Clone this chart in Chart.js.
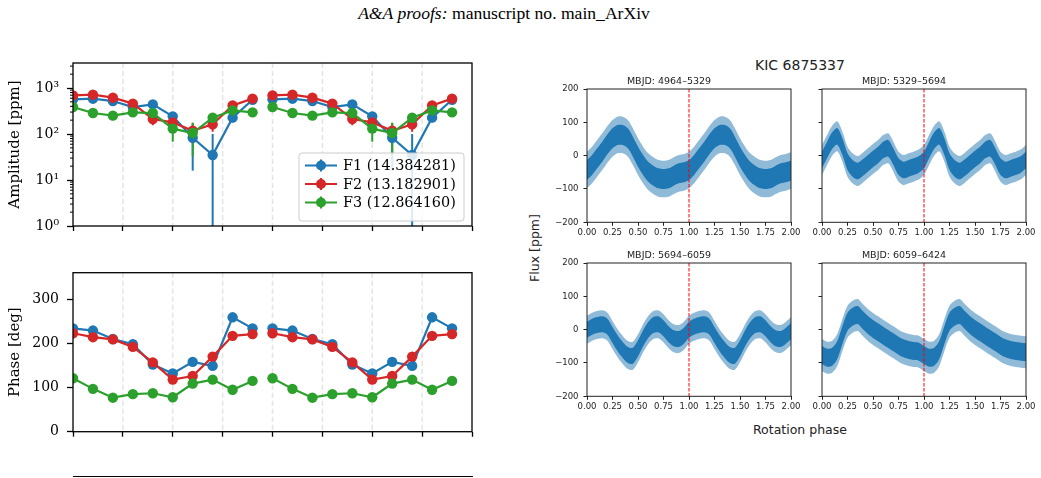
<!DOCTYPE html>
<html>
<head>
<meta charset="utf-8">
<script src="https://cdn.jsdelivr.net/npm/chart.js@4.4.0/dist/chart.umd.min.js"></script>
<style>
  body { margin: 0; background: #fff; width: 1041px; height: 478px; position: relative; overflow: hidden; }
  .box { position: absolute; }
  .txt { position: absolute; white-space: nowrap; color: #000; }
  #header { top: 3px; left: 0; width: 1008px; text-align: center; font-family: "Liberation Serif", serif; font-size: 17.6px; }
  #kic { top: 57px; left: 700px; width: 200px; text-align: center; font-family: "DejaVu Sans", sans-serif; font-size: 14px; color: #222; }
  #rot { top: 422px; left: 700px; width: 200px; text-align: center; font-family: "DejaVu Sans", sans-serif; font-size: 12.5px; color: #222; }
  #flux { top: 248px; left: 534px; font-family: "DejaVu Sans", sans-serif; font-size: 12.5px; color: #222; transform: translate(-50%, -50%) rotate(-90deg); }
  #third { position: absolute; left: 73px; top: 476px; width: 400px; border-top: 1.3px solid #000; }
</style>
</head>
<body>
<div id="header" class="txt"><i>A&amp;A proofs:</i> manuscript no. main_ArXiv</div>
<div id="kic" class="txt">KIC 6875337</div>
<div id="rot" class="txt">Rotation phase</div>
<div id="flux" class="txt">Flux [ppm]</div>
<div id="third"></div>

<div class="box" style="left:0;top:55px;width:480px;height:180px"><canvas id="amp"></canvas></div>
<div class="box" style="left:0;top:265px;width:480px;height:180px"><canvas id="phase"></canvas></div>
<div class="box" style="left:546.7px;top:74px;width:256px;height:162.3px"><canvas id="flux1"></canvas></div>
<div class="box" style="left:781.7px;top:74px;width:256px;height:162.3px"><canvas id="flux2"></canvas></div>
<div class="box" style="left:546.7px;top:247.7px;width:256px;height:162.3px"><canvas id="flux3"></canvas></div>
<div class="box" style="left:781.7px;top:247.7px;width:256px;height:162.3px"><canvas id="flux4"></canvas></div>

<script>
// ---- left panels: amplitude / phase of the three frequencies per bin ----
var binCentres = [0, 0.4, 0.8, 1.2, 1.6, 2.0, 2.4, 2.8, 3.2, 3.6];
var cycleOffset = 4;
var seriesLabels = ['F1 (14.384281)', 'F2 (13.182901)', 'F3 (12.864160)'];
var seriesColours = ['#1f77b4', '#d62728', '#2ca02c'];

var ampF1 = [567, 586, 521, 386, 441, 242, 83, 35, 227, 557];
var ampF2 = [692, 716, 616, 458, 212, 179, 118, 162, 419, 588];
var ampF3 = [386, 286, 251, 296, 286, 131, 105, 226, 327, 296];
var errF1 = [30, 30, 30, 30, 35, 40, 67, 65, 47, 30];
var errF2 = [30, 30, 30, 30, 57, 35, 55, 50, 35, 30];
var errF3 = [20, 20, 20, 20, 25, 63, 72, 30, 25, 20];

var phF1 = [234, 229, 210, 198, 152, 132, 158, 149, 259, 234];
var phF2 = [223, 214, 209, 192, 157, 118, 126, 170, 217, 221];
var phF3 = [121, 97, 77, 85, 87, 78, 109, 118, 95, 115];

var ampDecades = [1, 10, 100, 1000];
var decadeLabels = ['10\u2070', '10\u00b9', '10\u00b2', '10\u00b3'];
var phaseTicks = [0, 100, 200, 300];

// ---- right panels: folded light curves ----
var foldPhase = [0, 0.05, 0.1, 0.15, 0.2, 0.25, 0.3, 0.35, 0.4, 0.45, 0.5,
  0.55, 0.6, 0.65, 0.7, 0.75, 0.8, 0.85, 0.9, 0.95, 1.0];
var flux1 = [-43, -28, -8, 12, 34, 52, 62, 62, 52, 27, -3, -28, -48, -60, -68, -70, -68, -60, -53, -50, -45];
var flux2 = [-13, 17, 45, 58, 27, -18, -38, -46, -36, -23, -10, 2, 17, 22, -3, -33, -43, -38, -33, -26, -13];
var flux3 = [0, 9, 14, 16, 9, -16, -41, -61, -76, -78, -56, -26, -1, 14, 16, 4, -14, -26, -28, -18, -4];
var flux4 = [-76, -84, -81, -61, -16, 24, 39, 44, 29, 14, 2, -8, -18, -28, -38, -48, -56, -61, -64, -66, -68];
var fluxCore = [30, 25, 24, 27];
var fluxOuter = [55, 45, 42, 48];
var fluxTitles = ['MBJD: 4964\u20135329', 'MBJD: 5329\u20135694', 'MBJD: 5694\u20136059', 'MBJD: 6059\u20136424'];
var markerPhase = 1.0;

Chart.defaults.font.family = 'DejaVu Sans';
Chart.defaults.color = '#000';

function cyclePoints(values) {
  var pts = [];
  binCentres.forEach(function (x, i) { pts.push({x: x, y: values[i]}); });
  pts.push({x: cycleOffset - 0.2, y: null});
  binCentres.forEach(function (x, i) { pts.push({x: x + cycleOffset, y: values[i]}); });
  return pts;
}

function frame(width, colour) {
  return {
    id: 'frame',
    afterDraw: function (chart) {
      var a = chart.chartArea, ctx = chart.ctx;
      ctx.save();
      ctx.strokeStyle = colour;
      ctx.lineWidth = width;
      ctx.strokeRect(a.left, a.top, a.right - a.left, a.bottom - a.top);
      ctx.restore();
    }
  };
}

var dashedGrid = {
  id: 'dashedGrid',
  beforeDatasetsDraw: function (chart) {
    var xs = chart.scales.x, a = chart.chartArea, ctx = chart.ctx;
    ctx.save();
    ctx.strokeStyle = '#e4e4e4';
    ctx.lineWidth = 1.5;
    ctx.setLineDash([5, 3]);
    for (var t = xs.min + 1; t < xs.max; t++) {
      var px = xs.getPixelForValue(t);
      ctx.beginPath(); ctx.moveTo(px, a.top); ctx.lineTo(px, a.bottom); ctx.stroke();
    }
    ctx.restore();
  }
};

var errorBars = {
  id: 'errorBars',
  beforeDatasetsDraw: function (chart) {
    var ys = chart.scales.y, a = chart.chartArea, ctx = chart.ctx;
    ctx.save();
    ctx.beginPath(); ctx.rect(a.left, a.top, a.right - a.left, a.bottom - a.top); ctx.clip();
    chart.data.datasets.forEach(function (ds, i) {
      if (!ds.errors) return;
      var meta = chart.getDatasetMeta(i);
      ctx.strokeStyle = ds.borderColor;
      ctx.lineWidth = 2;
      ds.data.forEach(function (p, j) {
        var e = ds.errors[j];
        if (p.y === null || e === null) return;
        var top = ys.getPixelForValue(p.y + e);
        var bot = p.y - e > 0 ? ys.getPixelForValue(p.y - e) : a.bottom + 5;
        var x = meta.data[j].x;
        ctx.beginPath(); ctx.moveTo(x, top); ctx.lineTo(x, bot); ctx.stroke();
      });
    });
    ctx.restore();
  }
};

var minorLogTicks = {
  id: 'minorLogTicks',
  afterDraw: function (chart) {
    var ys = chart.scales.y, a = chart.chartArea, ctx = chart.ctx;
    ctx.save();
    ctx.strokeStyle = '#000';
    ctx.lineWidth = 1;
    ampDecades.forEach(function (d) {
      for (var k = 2; k <= 9; k++) {
        var v = k * d;
        if (v > ys.max) return;
        var py = ys.getPixelForValue(v);
        ctx.beginPath(); ctx.moveTo(a.left - 3, py); ctx.lineTo(a.left, py); ctx.stroke();
      }
    });
    ctx.restore();
  }
};

var boxLegend = {
  id: 'boxLegend',
  afterDraw: function (chart) {
    var a = chart.chartArea, ctx = chart.ctx;
    var w = 165, h = 68, x0 = a.right - 8 - w, y0 = a.bottom - 5 - h;
    ctx.save();
    ctx.fillStyle = 'rgba(255,255,255,0.85)';
    ctx.strokeStyle = '#cccccc';
    ctx.lineWidth = 1;
    ctx.beginPath();
    ctx.roundRect(x0, y0, w, h, 3);
    ctx.fill(); ctx.stroke();
    ctx.font = '14.4px "DejaVu Serif"';
    ctx.textBaseline = 'middle';
    seriesLabels.forEach(function (lab, i) {
      var y = y0 + 12.5 + i * 18.5;
      ctx.strokeStyle = seriesColours[i];
      ctx.fillStyle = seriesColours[i];
      ctx.lineWidth = 2;
      ctx.beginPath(); ctx.moveTo(x0 + 6, y); ctx.lineTo(x0 + 38, y); ctx.stroke();
      ctx.beginPath(); ctx.moveTo(x0 + 22, y - 6); ctx.lineTo(x0 + 22, y + 6); ctx.stroke();
      ctx.beginPath(); ctx.arc(x0 + 22, y, 5, 0, Math.PI * 2); ctx.fill();
      ctx.fillStyle = '#000';
      ctx.fillText(lab, x0 + 44, y + 1);
    });
    ctx.restore();
  }
};

function seriesDatasets(values, errs) {
  return values.map(function (v, i) {
    return {
      label: seriesLabels[i],
      data: cyclePoints(v),
      errors: errs ? errs[i].concat([null], errs[i]) : null,
      borderColor: seriesColours[i],
      backgroundColor: seriesColours[i],
      borderWidth: 2.2,
      pointRadius: 5.2,
      pointHoverRadius: 5.2,
      pointBorderWidth: 0,
      order: 3 - i
    };
  });
}

function leftXAxis(height) {
  return {
    type: 'linear', min: 0, max: 8,
    ticks: {stepSize: 1, color: 'rgba(0,0,0,0)', font: {size: 1}},
    grid: {drawOnChartArea: false, tickLength: 5, tickColor: '#000', tickWidth: 1.3},
    border: {display: false},
    afterFit: function (s) { s.height = height; s.paddingLeft = 0; s.paddingRight = 0; }
  };
}

var serifTick = {family: 'DejaVu Serif', size: 14};
var serifTitle = {family: 'DejaVu Serif', size: 15};

new Chart(document.getElementById('amp'), {
  type: 'line',
  data: {datasets: seriesDatasets([ampF1, ampF2, ampF3], [errF1, errF2, errF3])},
  options: {
    responsive: true, maintainAspectRatio: false, animation: false,
    layout: {padding: {top: 8, right: 8, left: 0, bottom: 0}},
    plugins: {legend: {display: false}, tooltip: {enabled: false}},
    scales: {
      x: leftXAxis(9),
      y: {
        type: 'logarithmic', min: 1, max: 3500,
        afterBuildTicks: function (s) { s.ticks = ampDecades.map(function (v) { return {value: v, major: true}; }); },
        ticks: {
          font: serifTick, color: '#000', padding: 8,
          callback: function (v) { var k = ampDecades.indexOf(v); return k >= 0 ? decadeLabels[k] : ''; }
        },
        grid: {drawOnChartArea: false, tickLength: 6, tickColor: '#000', tickWidth: 1.3},
        border: {display: false},
        title: {display: true, text: 'Amplitude [ppm]', font: serifTitle, color: '#000', padding: {top: 6, bottom: 0}},
        afterFit: function (s) { s.width = 73; s.paddingTop = 0; s.paddingBottom = 0; }
      }
    }
  },
  plugins: [dashedGrid, errorBars, minorLogTicks, frame(1.3, '#000'), boxLegend]
});

new Chart(document.getElementById('phase'), {
  type: 'line',
  data: {datasets: seriesDatasets([phF1, phF2, phF3], null)},
  options: {
    responsive: true, maintainAspectRatio: false, animation: false,
    layout: {padding: {top: 7.7, right: 8, left: 0, bottom: 0}},
    plugins: {legend: {display: false}, tooltip: {enabled: false}},
    scales: {
      x: leftXAxis(13.3),
      y: {
        min: 0, max: 360,
        afterBuildTicks: function (s) { s.ticks = phaseTicks.map(function (v) { return {value: v}; }); },
        ticks: {font: serifTick, color: '#000', padding: 8},
        grid: {drawOnChartArea: false, tickLength: 6, tickColor: '#000', tickWidth: 1.3},
        border: {display: false},
        title: {display: true, text: 'Phase [deg]', font: serifTitle, color: '#000', padding: {top: 6, bottom: 0}},
        afterFit: function (s) { s.width = 73; s.paddingTop = 0; s.paddingBottom = 0; }
      }
    }
  },
  plugins: [dashedGrid, frame(1.3, '#000')]
});

// ---- folded light curves ----
var markerLine = {
  id: 'markerLine',
  afterDatasetsDraw: function (chart) {
    var xs = chart.scales.x, a = chart.chartArea, ctx = chart.ctx;
    var px = xs.getPixelForValue(markerPhase);
    ctx.save();
    ctx.strokeStyle = '#ff0000';
    ctx.lineWidth = 1;
    ctx.setLineDash([3.5, 1.5]);
    ctx.beginPath(); ctx.moveTo(px, a.top); ctx.lineTo(px, a.bottom); ctx.stroke();
    ctx.restore();
  }
};

function bandPoints(values, offset) {
  var pts = [];
  [0, 1].forEach(function (c) {
    foldPhase.forEach(function (p, i) {
      if (c === 0 && i === foldPhase.length - 1) return;
      pts.push({x: p + c, y: values[i] + offset});
    });
  });
  return pts;
}

function fluxChart(id, k, values, showLabels) {
  var band = function (off, fill, colour) {
    return {
      data: bandPoints(values, off), fill: fill, backgroundColor: colour,
      borderWidth: 0, pointRadius: 0, tension: 0.3
    };
  };
  new Chart(document.getElementById(id), {
    type: 'line',
    data: {
      datasets: [
        band(fluxCore[k], '+1', 'rgba(31,119,180,1)'),
        band(-fluxCore[k], false, 'rgba(31,119,180,1)'),
        band(fluxOuter[k], '+1', 'rgba(31,119,180,0.5)'),
        band(-fluxOuter[k], false, 'rgba(31,119,180,0.5)')
      ]
    },
    options: {
      responsive: true, maintainAspectRatio: false, animation: false,
      layout: {padding: {top: 0, right: 12, left: 0, bottom: 0}},
      plugins: {
        legend: {display: false}, tooltip: {enabled: false},
        title: {display: true, text: fluxTitles[k], font: {size: 9.5, weight: 'normal'}, color: '#222', padding: {top: 1.5, bottom: 2.1}}
      },
      scales: {
        x: {
          type: 'linear', min: 0, max: 2,
          ticks: {stepSize: 0.25, font: {size: 8.5}, color: '#222', padding: 2, maxRotation: 0, autoSkip: false,
            callback: function (v) { return v.toFixed(2); }},
          grid: {drawOnChartArea: false, tickLength: 3.5, tickColor: '#222'},
          border: {display: false},
          afterFit: function (s) { s.height = 14; s.paddingLeft = 0; s.paddingRight = 0; }
        },
        y: {
          min: -200, max: 200,
          ticks: {stepSize: 100, font: {size: 8.5}, color: showLabels ? '#222' : 'rgba(0,0,0,0)', padding: 5,
            callback: function (v) { return String(v).replace('-', '\u2212'); }},
          grid: {drawOnChartArea: false, tickLength: 3.5, tickColor: '#222'},
          border: {display: false},
          afterFit: function (s) { s.width = 40; s.paddingTop = 0; s.paddingBottom = 0; }
        }
      }
    },
    plugins: [markerLine, frame(1, '#222')]
  });
}

fluxChart('flux1', 0, flux1, true);
fluxChart('flux2', 1, flux2, false);
fluxChart('flux3', 2, flux3, true);
fluxChart('flux4', 3, flux4, false);
</script>
</body>
</html>
